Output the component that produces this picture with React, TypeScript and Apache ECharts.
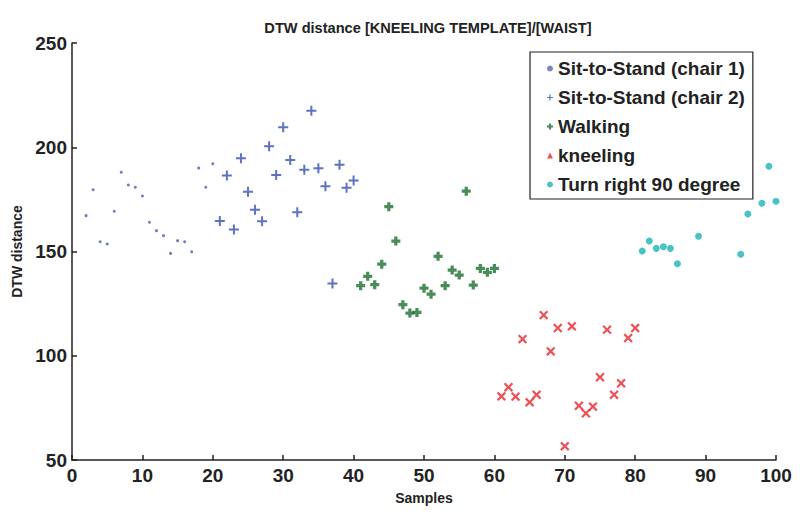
import React, { useEffect, useRef } from "react";
import * as echarts from "echarts";

const chair1X = [2, 3, 4, 5, 6, 7, 8, 9, 10, 11, 12, 13, 14, 15, 16, 17, 18, 19, 20];
const chair1Y = [167.2, 179.6, 154.7, 153.6, 169.3, 188, 181.9, 180.8, 176.6, 164, 160, 157.6, 149.1, 155.2, 154.7, 149.9, 190, 180.8, 192.1];

const chair2X = [21, 22, 23, 24, 25, 26, 27, 28, 29, 30, 31, 32, 33, 34, 35, 36, 37, 38, 39, 40];
const chair2Y = [164.6, 186.4, 160.5, 194.7, 178.7, 170, 164.5, 200.5, 186.7, 209.6, 193.9, 168.8, 189.2, 217.5, 189.9, 181.3, 134.7, 191.6, 180.6, 184.1];

const walkX = [41, 42, 43, 44, 45, 46, 47, 48, 49, 50, 51, 52, 53, 54, 55, 56, 57, 58, 59, 60];
const walkY = [133.6, 138.1, 134.1, 143.9, 171.5, 155, 124.5, 120.5, 120.8, 132.4, 129.5, 147.7, 133.6, 141.1, 138.7, 178.9, 133.9, 141.9, 140, 141.9];

const kneelX = [61, 62, 63, 64, 65, 66, 67, 68, 69, 70, 71, 72, 73, 74, 75, 76, 77, 78, 79, 80];
const kneelY = [80.5, 84.9, 80.4, 108, 77.7, 81.3, 119.5, 102.1, 113.3, 56.6, 114.1, 76, 72.4, 75.6, 89.7, 112.5, 81.3, 86.8, 108.5, 113.3];

const turnX = [81, 82, 83, 84, 85, 86, 89, 95, 96, 98, 99, 100];
const turnY = [150.2, 155, 151.5, 152.3, 151.5, 144.1, 157.3, 148.7, 168, 173.1, 190.9, 174.1];

const seriesNames = ["Sit-to-Stand (chair 1)", "Sit-to-Stand (chair 2)", "Walking", "kneeling", "Turn right 90 degree"];

const PLUS = "path://M4,0H6V4H10V6H6V10H4V6H0V4H4Z";
const FATPLUS = "path://M3.2,0H6.8V3.2H10V6.8H6.8V10H3.2V6.8H0V3.2H3.2Z";

const zip = (xs: number[], ys: number[]) => xs.map((x, i) => [x, ys[i]]);

const NARROW = "'Liberation Sans Narrow', 'Arial Narrow', 'Liberation Sans', Arial, sans-serif";
const SANS = "'Liberation Sans', Arial, sans-serif";

export default function App() {
  const ref = useRef<HTMLDivElement>(null);
  useEffect(() => {
    if (!ref.current) return;
    const chart = echarts.init(ref.current, null, { renderer: "svg" });
    chart.setOption({
      animation: false,
      backgroundColor: "#ffffff",
      title: {
        text: "DTW distance [KNEELING TEMPLATE]/[WAIST]",
        left: 423,
        textAlign: "center",
        top: 15,
        textStyle: { fontFamily: NARROW, fontSize: 14.6, fontWeight: "bold", color: "#222" },
      },
      grid: { left: 72, right: 24, top: 43, bottom: 57 },
      xAxis: {
        type: "value",
        min: 0,
        max: 100,
        interval: 10,
        name: "Samples",
        nameLocation: "middle",
        nameGap: 31,
        nameTextStyle: { fontFamily: NARROW, fontSize: 14, fontWeight: "bold", color: "#222" },
        axisLine: { show: true, lineStyle: { color: "#222", width: 1.5 } },
        axisTick: { show: true, inside: true, length: 5, lineStyle: { color: "#222", width: 1.5 } },
        axisLabel: { fontFamily: NARROW, fontSize: 19, fontWeight: "bold", color: "#222", margin: 6, showMinLabel: true, showMaxLabel: true },
        splitLine: { show: false },
      },
      yAxis: {
        type: "value",
        min: 50,
        max: 250,
        interval: 50,
        name: "DTW distance",
        nameLocation: "middle",
        nameGap: 39,
        nameTextStyle: { fontFamily: NARROW, fontSize: 14, fontWeight: "bold", color: "#222" },
        axisLine: { show: true, lineStyle: { color: "#222", width: 1.5 } },
        axisTick: { show: true, inside: true, length: 5, lineStyle: { color: "#222", width: 1.5 } },
        axisLabel: { fontFamily: NARROW, fontSize: 19, fontWeight: "bold", color: "#222", margin: 5, verticalAlign: "middle" },
        splitLine: { show: false },
      },
      legend: {
        orient: "vertical",
        left: 530,
        top: 52,
        padding: [7, 8, 5, 17],
        backgroundColor: "#ffffff",
        borderColor: "#222",
        borderWidth: 1.2,
        itemWidth: 6,
        itemHeight: 6,
        itemGap: 10,
        itemTextGap: 14,
        textStyle: { fontFamily: SANS, fontSize: 19, fontWeight: "bold", color: "#222", lineHeight: 19 },
        data: [
          { name: seriesNames[0], icon: "circle", itemStyle: { color: "#5a68b0" } },
          { name: seriesNames[1], icon: PLUS },
          { name: seriesNames[2], icon: FATPLUS },
          { name: seriesNames[3], icon: "triangle" },
          { name: seriesNames[4], icon: "circle" },
        ],
        z: 10,
      },
      series: [
        {
          name: seriesNames[0],
          type: "scatter",
          data: zip(chair1X, chair1Y),
          symbol: "circle",
          symbolSize: 3,
          itemStyle: { color: "#4a5aa8" },
        },
        {
          name: seriesNames[1],
          type: "scatter",
          data: zip(chair2X, chair2Y),
          symbol: PLUS,
          symbolSize: 10,
          itemStyle: { color: "#3550b0" },
        },
        {
          name: seriesNames[2],
          type: "scatter",
          data: zip(walkX, walkY),
          symbol: FATPLUS,
          symbolSize: 9,
          itemStyle: { color: "#1a7030" },
        },
        {
          name: seriesNames[3],
          type: "scatter",
          data: zip(kneelX, kneelY),
          symbol: PLUS,
          symbolRotate: 45,
          symbolSize: 11,
          itemStyle: { color: "#e8262e" },
        },
        {
          name: seriesNames[4],
          type: "scatter",
          data: zip(turnX, turnY),
          symbol: "circle",
          symbolSize: 7,
          itemStyle: { color: "#1ab4b8" },
        },
      ],
    });
    return () => chart.dispose();
  }, []);
  return (
    <div
      ref={ref}
      style={{ position: "fixed", left: 0, top: 0, width: 800, height: 517, background: "#fff" }}
    />
  );
}
